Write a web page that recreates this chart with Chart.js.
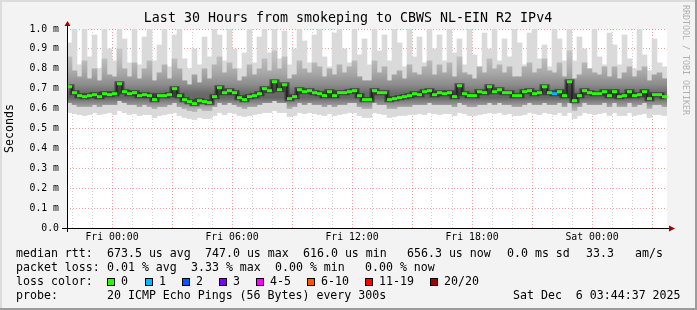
<!DOCTYPE html>
<html>
<head>
<meta charset="utf-8">
<script src="https://cdn.jsdelivr.net/npm/chart.js@4"></script>
<style>
  html, body { margin: 0; padding: 0; background: #f3f3f3; }
  #wrap { width: 697px; height: 310px; }
</style>
</head>
<body>
<div id="wrap"><canvas id="myChart" width="697" height="310"></canvas></div>
<script>
// one column every 15 minutes, 30 hours, starting Thu 21:45
const stepMinutes = 15
const spanMinutes = 1800
const firstLabelMinute = 135 // Fri 00:00

const timeLabels = ['Fri 00:00', 'Fri 06:00', 'Fri 12:00', 'Fri 18:00', 'Sat 00:00']
const yTickLabels = ['0.0', '0.1 m', '0.2 m', '0.3 m', '0.4 m', '0.5 m', '0.6 m', '0.7 m', '0.8 m', '0.9 m', '1.0 m']

// median rtt in ms
const medianRtt = [
  0.71,0.68,0.665,0.66,0.665,0.67,0.66,0.675,0.67,0.675,
  0.725,0.685,0.675,0.68,0.665,0.67,0.665,0.645,0.665,0.665,
  0.67,0.70,0.665,0.645,0.635,0.625,0.64,0.635,0.63,0.66,
  0.705,0.68,0.69,0.68,0.655,0.645,0.66,0.665,0.675,0.70,
  0.69,0.735,0.695,0.72,0.65,0.66,0.695,0.685,0.69,0.68,
  0.675,0.665,0.685,0.665,0.68,0.68,0.685,0.69,0.665,0.645,
  0.645,0.69,0.68,0.68,0.645,0.65,0.655,0.66,0.665,0.675,
  0.67,0.685,0.69,0.67,0.68,0.675,0.68,0.66,0.715,0.675,
  0.665,0.665,0.685,0.68,0.71,0.685,0.695,0.68,0.68,0.665,
  0.665,0.685,0.69,0.675,0.68,0.71,0.68,0.675,0.685,0.665,
  0.735,0.64,0.665,0.69,0.68,0.675,0.675,0.685,0.665,0.685,
  0.66,0.665,0.685,0.665,0.67,0.685,0.65,0.67,0.67,0.66
]

// smoke: slowest ping, inner band, fastest ping
const pingMax = [
  0.93,1.0,0.82,1.0,0.86,0.97,0.80,1.0,0.9,0.84,
  1.0,0.95,0.83,1.0,0.82,0.96,1.0,0.84,0.92,1.0,
  0.81,0.97,1.0,0.85,0.8,0.9,0.82,0.96,0.86,1.0,
  0.97,0.84,1.0,0.9,0.8,0.88,1.0,0.83,0.96,1.0,
  0.88,1.0,0.85,0.99,0.82,0.9,1.0,0.94,0.83,0.97,
  1.0,0.86,0.81,0.98,1.0,0.9,0.83,1.0,0.87,0.95,
  0.82,1.0,0.89,0.97,0.84,1.0,0.93,0.81,1.0,0.86,
  0.96,0.83,1.0,0.9,0.97,0.84,1.0,0.88,0.95,0.82,
  1.0,0.87,0.81,0.98,0.9,1.0,0.84,0.95,0.86,1.0,
  0.93,0.82,0.98,1.0,0.85,0.92,0.81,1.0,0.95,0.84,
  1.0,0.84,0.96,0.9,0.8,1.0,0.86,0.82,0.98,0.92,
  0.82,0.97,0.85,0.8,1.0,0.87,0.79,0.95,0.83,0.81
]
const pingHi = [
  0.86,0.79,0.76,0.84,0.75,0.80,0.74,0.85,0.77,0.76,
  0.90,0.80,0.76,0.83,0.75,0.80,0.84,0.74,0.78,0.82,
  0.75,0.85,0.80,0.74,0.72,0.77,0.73,0.80,0.75,0.82,
  0.86,0.78,0.83,0.80,0.74,0.76,0.82,0.77,0.80,0.85,
  0.79,0.89,0.80,0.86,0.75,0.77,0.84,0.80,0.78,0.83,
  0.81,0.76,0.80,0.77,0.82,0.78,0.81,0.84,0.76,0.74,
  0.74,0.84,0.78,0.81,0.74,0.77,0.79,0.75,0.82,0.78,
  0.77,0.81,0.84,0.77,0.82,0.78,0.83,0.76,0.86,0.78,
  0.77,0.75,0.81,0.78,0.85,0.80,0.82,0.78,0.81,0.76,
  0.76,0.81,0.83,0.78,0.80,0.85,0.79,0.78,0.83,0.76,
  0.89,0.75,0.77,0.83,0.80,0.78,0.77,0.81,0.76,0.81,
  0.75,0.78,0.81,0.76,0.79,0.81,0.74,0.77,0.78,0.75
]
const pingLo = [
  0.63,0.62,0.61,0.61,0.61,0.62,0.61,0.62,0.62,0.62,
  0.64,0.63,0.62,0.62,0.61,0.62,0.61,0.60,0.61,0.61,
  0.62,0.63,0.61,0.60,0.59,0.585,0.60,0.59,0.59,0.61,
  0.63,0.62,0.63,0.62,0.61,0.60,0.61,0.61,0.62,0.63,
  0.63,0.64,0.63,0.63,0.60,0.61,0.63,0.62,0.63,0.62,
  0.62,0.61,0.62,0.61,0.62,0.62,0.63,0.63,0.61,0.60,
  0.60,0.63,0.62,0.62,0.60,0.60,0.61,0.61,0.61,0.62,
  0.62,0.62,0.63,0.62,0.62,0.62,0.62,0.61,0.63,0.62,
  0.61,0.61,0.62,0.62,0.63,0.62,0.63,0.62,0.62,0.61,
  0.61,0.62,0.63,0.62,0.62,0.63,0.62,0.62,0.63,0.61,
  0.63,0.59,0.61,0.63,0.62,0.62,0.62,0.63,0.61,0.63,
  0.61,0.61,0.63,0.61,0.62,0.63,0.60,0.62,0.62,0.61
]
const pingMin = [
  0.58,0.575,0.57,0.565,0.57,0.58,0.57,0.575,0.58,0.57,
  0.59,0.58,0.57,0.575,0.565,0.57,0.57,0.555,0.565,0.57,
  0.575,0.58,0.565,0.555,0.55,0.545,0.555,0.55,0.55,0.565,
  0.58,0.57,0.58,0.575,0.565,0.56,0.565,0.57,0.575,0.58,
  0.58,0.59,0.58,0.58,0.56,0.565,0.58,0.575,0.58,0.575,
  0.57,0.565,0.575,0.565,0.57,0.575,0.58,0.58,0.565,0.555,
  0.555,0.58,0.575,0.57,0.555,0.56,0.565,0.565,0.57,0.57,
  0.575,0.57,0.58,0.575,0.57,0.575,0.575,0.565,0.58,0.575,
  0.565,0.565,0.57,0.575,0.58,0.575,0.58,0.57,0.575,0.565,
  0.565,0.57,0.58,0.575,0.57,0.58,0.575,0.57,0.58,0.565,
  0.58,0.55,0.565,0.58,0.575,0.57,0.575,0.58,0.565,0.58,
  0.565,0.565,0.58,0.565,0.57,0.575,0.555,0.57,0.57,0.565
]
// lost pings out of 20 per column
const lossCount = [
  0,0,0,0,0,0,0,0,0,0, 0,0,0,0,0,0,0,0,0,0,
  0,0,0,0,0,0,0,0,0,0, 0,0,0,0,0,0,0,0,0,0,
  0,0,0,0,0,0,0,0,0,0, 0,0,0,0,0,0,0,0,0,0,
  0,0,0,0,0,0,0,0,0,0, 0,0,0,0,0,0,0,0,0,0,
  0,0,0,0,0,0,0,0,0,0, 0,0,0,0,0,0,0,1,0,0,
  0,0,0,0,0,0,0,0,0,0, 0,0,0,0,0,0,0,0,0,0
]

const lossLabels = ['0', '1', '2', '3', '4-5', '6-10', '11-19', '20/20']
const lossColors = ['#26ff00', '#00b8ff', '#0059ff', '#7e00ff', '#ff00ff', '#ff5500', '#ff0000', '#a10000']
const rttStats = ['673.5 us avg', '747.0 us max', '616.0 us min', '656.3 us now', '0.0 ms sd', '33.3', 'am/s']
const lossStats = ['0.01 % avg', '3.33 % max', '0.00 % min', '0.00 % now']
const probeText = '20 ICMP Echo Pings (56 Bytes) every 300s'
const stampText = 'Sat Dec  6 03:44:37 2025'
const titleText = 'Last 30 Hours from smokeping to CBWS NL-EIN R2 IPv4'

const MONO = '"DejaVu Sans Mono", "Liberation Mono", monospace'

const times = medianRtt.map((_, i) => i * stepMinutes + stepMinutes / 2)
const band = (lo, hi) => times.map((t, i) => ({ x: t, y: [lo[i], hi[i]] }))
const medianPts = times.map((t, i) => ({ x: t, y: medianRtt[i] }))

function lossColorIndex(n) {
  if (n <= 3) return n
  if (n <= 5) return 4
  if (n <= 10) return 5
  if (n <= 19) return 6
  return 7
}

let smokeGrad = null
function smokeGradient(ctx) {
  const chart = ctx.chart
  if (!chart.chartArea) return '#999'
  if (smokeGrad) return smokeGrad
  const y = chart.scales.y
  const g = chart.ctx.createLinearGradient(0, y.getPixelForValue(1.0), 0, y.getPixelForValue(0.55))
  const at = v => (1.0 - v) / 0.45
  g.addColorStop(at(1.0), '#d0d0d0')
  g.addColorStop(at(0.86), '#c0c0c0')
  g.addColorStop(at(0.78), '#a8a8a8')
  g.addColorStop(at(0.72), '#8c8c8c')
  g.addColorStop(at(0.68), '#6c6c6c')
  g.addColorStop(at(0.655), '#666666')
  g.addColorStop(at(0.63), '#8a8a8a')
  g.addColorStop(at(0.60), '#b0b0b0')
  g.addColorStop(at(0.55), '#c8c8c8')
  smokeGrad = g
  return g
}

const deco = {
  id: 'deco',
  beforeDraw(chart) {
    const c = chart.ctx, a = chart.chartArea
    c.save()
    c.fillStyle = '#f3f3f3'
    c.fillRect(0, 0, chart.width, chart.height)
    c.fillStyle = '#dcdcdc'
    c.fillRect(0, 0, chart.width, 2)
    c.fillRect(0, 0, 2, chart.height)
    c.fillStyle = '#9c9c9c'
    c.fillRect(chart.width - 2, 0, 2, chart.height)
    c.fillRect(0, chart.height - 2, chart.width, 2)
    c.fillStyle = '#ffffff'
    c.fillRect(a.left, a.top, a.right - a.left, a.bottom - a.top)
    c.restore()
  },
  afterDraw(chart) {
    const c = chart.ctx, a = chart.chartArea
    c.save()
    // axes with arrow heads
    c.strokeStyle = '#000'
    c.lineWidth = 1
    c.beginPath()
    c.moveTo(a.left + 0.5, a.bottom + 4)
    c.lineTo(a.left + 0.5, a.top - 4)
    c.moveTo(a.left - 5, a.bottom + 0.5)
    c.lineTo(a.right + 3, a.bottom + 0.5)
    c.stroke()
    c.fillStyle = '#a00000'
    c.beginPath()
    c.moveTo(a.left + 0.5, a.top - 8)
    c.lineTo(a.left - 2.5, a.top - 3)
    c.lineTo(a.left + 3.5, a.top - 3)
    c.fill()
    c.beginPath()
    c.moveTo(a.right + 8, a.bottom + 0.5)
    c.lineTo(a.right + 2, a.bottom - 2.5)
    c.lineTo(a.right + 2, a.bottom + 3.5)
    c.fill()

    // title
    c.fillStyle = '#000'
    c.textBaseline = 'middle'
    c.textAlign = 'center'
    c.font = '13.3px ' + MONO
    c.fillText(titleText, 348, 19)

    // y axis title
    c.font = '11.6px ' + MONO
    c.save()
    c.translate(10, (a.top + a.bottom) / 2)
    c.rotate(-Math.PI / 2)
    c.fillText('Seconds', 0, 0)
    c.restore()

    // watermark
    c.save()
    c.fillStyle = '#b0b0b0'
    c.font = '8.3px ' + MONO
    c.textAlign = 'left'
    c.translate(685, 5)
    c.rotate(Math.PI / 2)
    c.fillText('RRDTOOL / TOBI OETIKER', 0, 0)
    c.restore()

    // legend
    c.textAlign = 'left'
    c.font = '11.6px ' + MONO
    c.fillText('median rtt:', 16, 254)
    const rttX = [107, 205, 303, 407, 507, 586, 635]
    rttStats.forEach((s, i) => c.fillText(s, rttX[i], 254))
    c.fillText('packet loss:', 16, 268)
    const lossX = [107, 191, 275, 365]
    lossStats.forEach((s, i) => c.fillText(s, lossX[i], 268))
    c.fillText('loss color:', 16, 282)
    const boxX = [107, 145, 182, 219, 256, 307, 365, 430]
    lossLabels.forEach((s, i) => {
      c.fillStyle = lossColors[i]
      c.fillRect(boxX[i], 278, 8, 8)
      c.strokeStyle = '#000'
      c.strokeRect(boxX[i] + 0.5, 278.5, 7, 7)
      c.fillStyle = '#000'
      c.fillText(s, boxX[i] + 14, 282)
    })
    c.fillText('probe:', 16, 296)
    c.fillText(probeText, 107, 296)
    c.fillText(stampText, 513, 296)
    c.restore()
  }
}

const config = {
  type: 'bar',
  data: {
    datasets: [
      {
        type: 'bar', data: band(pingMin, pingMax), backgroundColor: '#dadada',
        borderWidth: 0, grouped: false, barPercentage: 1, categoryPercentage: 1, order: 5
      },
      {
        type: 'bar', data: band(pingLo, pingHi), backgroundColor: smokeGradient,
        borderWidth: 0, grouped: false, barPercentage: 1, categoryPercentage: 1, order: 4
      },
      {
        type: 'line', data: medianPts, borderColor: 'rgba(30,30,30,0.6)', borderWidth: 5,
        stepped: 'middle', pointRadius: 0, fill: false, order: 3
      },
      {
        type: 'line', data: medianPts, borderColor: '#111', borderWidth: 1,
        stepped: 'middle', fill: false, order: 1,
        pointStyle: 'line', pointRadius: 2.5, pointBorderWidth: 3,
        pointBorderColor: ctx => lossColors[lossColorIndex(lossCount[ctx.dataIndex] || 0)],
        pointBackgroundColor: ctx => lossColors[lossColorIndex(lossCount[ctx.dataIndex] || 0)]
      }
    ]
  },
  options: {
    responsive: false,
    animation: false,
    devicePixelRatio: 1,
    events: [],
    layout: { padding: { top: 29, right: 30, left: 0, bottom: 0 } },
    plugins: { legend: { display: false }, tooltip: { enabled: false }, title: { display: false } },
    scales: {
      x: {
        type: 'linear', min: 0, max: spanMinutes, offset: false, z: 1,
        afterBuildTicks: s => {
          s.ticks = []
          for (let v = 15; v < spanMinutes; v += 60) s.ticks.push({ value: v })
        },
        afterFit: s => { s.height = 82 },
        ticks: {
          autoSkip: false, maxRotation: 0, padding: 4, color: '#000',
          font: { family: MONO, size: 9.8 },
          callback: v => {
            const k = (v - firstLabelMinute) / 360
            return Number.isInteger(k) && timeLabels[k] ? timeLabels[k] : ''
          }
        },
        grid: {
          offset: false, drawTicks: false, lineWidth: 1,
          color: ctx => ((ctx.tick.value - firstLabelMinute) % 180 === 0)
            ? 'rgba(225,70,70,0.5)' : 'rgba(150,110,110,0.35)'
        },
        border: { display: false, dash: [1, 2] }
      },
      y: {
        min: 0, max: 1, z: 1,
        afterBuildTicks: s => { s.ticks = yTickLabels.map((_, i) => ({ value: i / 10 })) },
        afterFit: s => { s.width = 67 },
        ticks: {
          padding: 8, color: '#000',
          font: { family: MONO, size: 9.8 },
          callback: (v, i) => yTickLabels[i]
        },
        grid: { drawTicks: false, lineWidth: 1, color: 'rgba(225,70,70,0.5)' },
        border: { display: false, dash: [1, 2] }
      }
    }
  },
  plugins: [deco]
}

const myChart = new Chart(document.getElementById('myChart'), config)
</script>
</body>
</html>
